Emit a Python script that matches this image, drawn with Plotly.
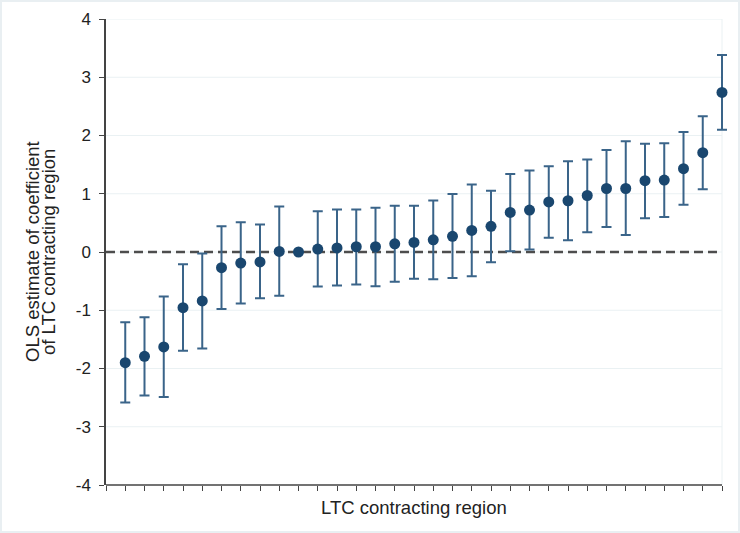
import plotly.graph_objects as go

# Region index (sorted by estimate)
region = list(range(1, 33))

# OLS point estimates
estimate = [-1.90, -1.79, -1.63, -0.955, -0.84, -0.27, -0.19, -0.17, 0.01, 0.0,
            0.05, 0.07, 0.09, 0.09, 0.14, 0.165, 0.21, 0.27, 0.37, 0.44,
            0.68, 0.72, 0.86, 0.88, 0.97, 1.09, 1.09, 1.225, 1.235, 1.43,
            1.705, 2.74]

# Confidence interval bounds
ci_lower = [-2.585, -2.465, -2.49, -1.695, -1.655, -0.978, -0.886, -0.795, -0.75, 0.0,
            -0.594, -0.577, -0.56, -0.59, -0.51, -0.46, -0.468, -0.445, -0.416, -0.175,
            0.014, 0.043, 0.244, 0.20, 0.34, 0.43, 0.29, 0.58, 0.60, 0.81,
            1.076, 2.10]
ci_upper = [-1.208, -1.122, -0.766, -0.21, -0.026, 0.44, 0.51, 0.47, 0.78, 0.0,
            0.70, 0.73, 0.73, 0.76, 0.795, 0.795, 0.886, 0.995, 1.16, 1.05,
            1.34, 1.40, 1.47, 1.56, 1.59, 1.75, 1.90, 1.86, 1.867, 2.06,
            2.33, 3.38]

y_ticks = [-4, -3, -2, -1, 0, 1, 2, 3, 4]
x_ticks = list(range(0, 33))
y_title_lines = ["OLS estimate of coefficient", "of LTC contracting region"]
x_title = "LTC contracting region"

err_plus = [u - e for u, e in zip(ci_upper, estimate)]
err_minus = [e - l for e, l in zip(estimate, ci_lower)]

FONT = "Liberation Sans, Arial, sans-serif"
TXT = "#222222"
AX = "#444444"
GRID = "#eaf1f3"

W, H = 740, 533
L, R, T, B = 106, 4, 19, 48
pw, ph = W - L - R, H - T - B
X_END = 32                      # last tick / end of drawn axis
x_max = X_END * pw / 616.0      # 616 px spans 0..32, extra room so caps are not clipped

fig = go.Figure()
fig.add_trace(go.Scatter(
    x=region, y=estimate, mode="markers",
    marker=dict(size=11, color="#1a476f"),
    error_y=dict(type="data", symmetric=False, array=err_plus, arrayminus=err_minus,
                 color="#3a6489", thickness=2, width=5),
    cliponaxis=False,
    showlegend=False, hoverinfo="skip",
))

shapes = []
# horizontal grid lines (stop at end of x axis)
for v in y_ticks[1:]:
    shapes.append(dict(type="line", xref="x", yref="y", x0=0, x1=X_END, y0=v, y1=v,
                       line=dict(color=GRID, width=1), layer="below"))
# faint right border of plot region
shapes.append(dict(type="line", xref="x", yref="y domain", x0=X_END, x1=X_END, y0=0, y1=1,
                   line=dict(color=GRID, width=1), layer="below"))
# zero reference line
shapes.append(dict(type="line", xref="x", yref="y", x0=0, x1=X_END, y0=0, y1=0,
                   line=dict(color="#4d4d4d", width=2.4, dash="9px,5px"), layer="below"))
# x axis line
shapes.append(dict(type="line", xref="x", yref="y domain", x0=0, x1=X_END, y0=0, y1=0,
                   line=dict(color=AX, width=1.5), layer="above"))
# outer frame
shapes.append(dict(type="rect", xref="paper", yref="paper",
                   x0=(1 - L) / pw, x1=(W - 1 - L) / pw,
                   y0=(H - B - (H - 1)) / ph, y1=(H - B - 1) / ph,
                   line=dict(color="#e9eff2", width=2), layer="below"))

axis_x_center = (X_END / x_max) * 0.5
annotations = [
    dict(text=y_title_lines[0], xref="paper", yref="paper",
         x=(32 - L) / pw, y=0.5, textangle=-90, showarrow=False,
         xanchor="center", yanchor="middle",
         font=dict(family=FONT, size=18.5, color=TXT)),
    dict(text=y_title_lines[1], xref="paper", yref="paper",
         x=(48 - L) / pw, y=0.5, textangle=-90, showarrow=False,
         xanchor="center", yanchor="middle",
         font=dict(family=FONT, size=18.5, color=TXT)),
    dict(text=x_title, xref="paper", yref="paper",
         x=axis_x_center, y=-(507 - (H - B)) / ph, showarrow=False,
         xanchor="center", yanchor="middle",
         font=dict(family=FONT, size=18.5, color=TXT)),
]

fig.update_layout(
    width=W, height=H,
    margin=dict(l=L, r=R, t=T, b=B, pad=0),
    paper_bgcolor="white", plot_bgcolor="white",
    font=dict(family=FONT, size=17, color=TXT),
    shapes=shapes, annotations=annotations,
    xaxis=dict(range=[0, x_max], tickvals=x_ticks,
               showticklabels=False, ticks="outside", ticklen=5, tickwidth=1,
               tickcolor=AX, showline=False, showgrid=False, zeroline=False),
    yaxis=dict(range=[-4, 4], tickvals=y_ticks, ticktext=[str(v) for v in y_ticks],
               ticks="outside", ticklen=5, tickwidth=1, tickcolor=AX,
               showline=True, linecolor=AX, linewidth=1.5,
               showgrid=False, zeroline=False, ticklabelstandoff=5,
               tickfont=dict(family=FONT, size=17, color=TXT)),
)

fig.write_html("out.html", config={"displayModeBar": False},
               post_script="document.body.style.margin='0';document.body.style.padding='0';")
